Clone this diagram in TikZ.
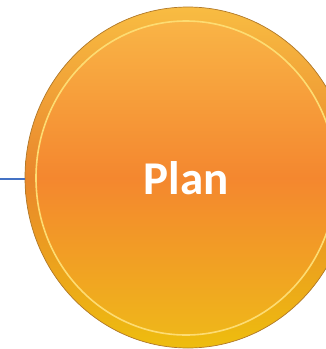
\documentclass[tikz,border=0pt]{standalone}
\usepackage{fontspec}
\setsansfont{Carlito}
\usetikzlibrary{shapes.geometric}

\definecolor{linkblue}{HTML}{4472C4}
\definecolor{rimline}{HTML}{B07828}
\definecolor{rimTop}{HTML}{F8BC42}
\definecolor{rimMid}{HTML}{E9872C}
\definecolor{rimBot}{HTML}{EEBD0E}
\definecolor{glow}{HTML}{FDDC72}
\definecolor{coreTop}{HTML}{F9B446}
\definecolor{coreMid}{HTML}{F4872F}
\definecolor{coreBot}{HTML}{EFB61A}

\begin{document}
\begin{tikzpicture}[
    x=1pt, y=-1pt,
    font=\sffamily\bfseries,
    rim/.style={ellipse, inner sep=0pt, minimum width=326pt, minimum height=341pt,
        draw=rimline, line width=0.7pt,
        top color=rimTop, bottom color=rimBot, middle color=rimMid},
    core/.style={ellipse, inner sep=0pt, minimum width=300pt, minimum height=314pt,
        draw=glow, line width=1.6pt,
        top color=coreTop, bottom color=coreBot, middle color=coreMid,
        text=white, font=\sffamily\bfseries\fontsize{47}{47}\selectfont},
    link/.style={draw=linkblue, line width=2.2pt}
]
    \useasboundingbox (0,0) rectangle (326,349);

    % --- Plan disc ---
    \coordinate (lft) at (0,179);
    \node[rim] (plan) at (188,177.5) {};
    \node[core] (core) at (186,178) {Plan};

    % incoming connector
    \draw[link] (lft) -- (lft -| plan.west);

\end{tikzpicture}
\end{document}
